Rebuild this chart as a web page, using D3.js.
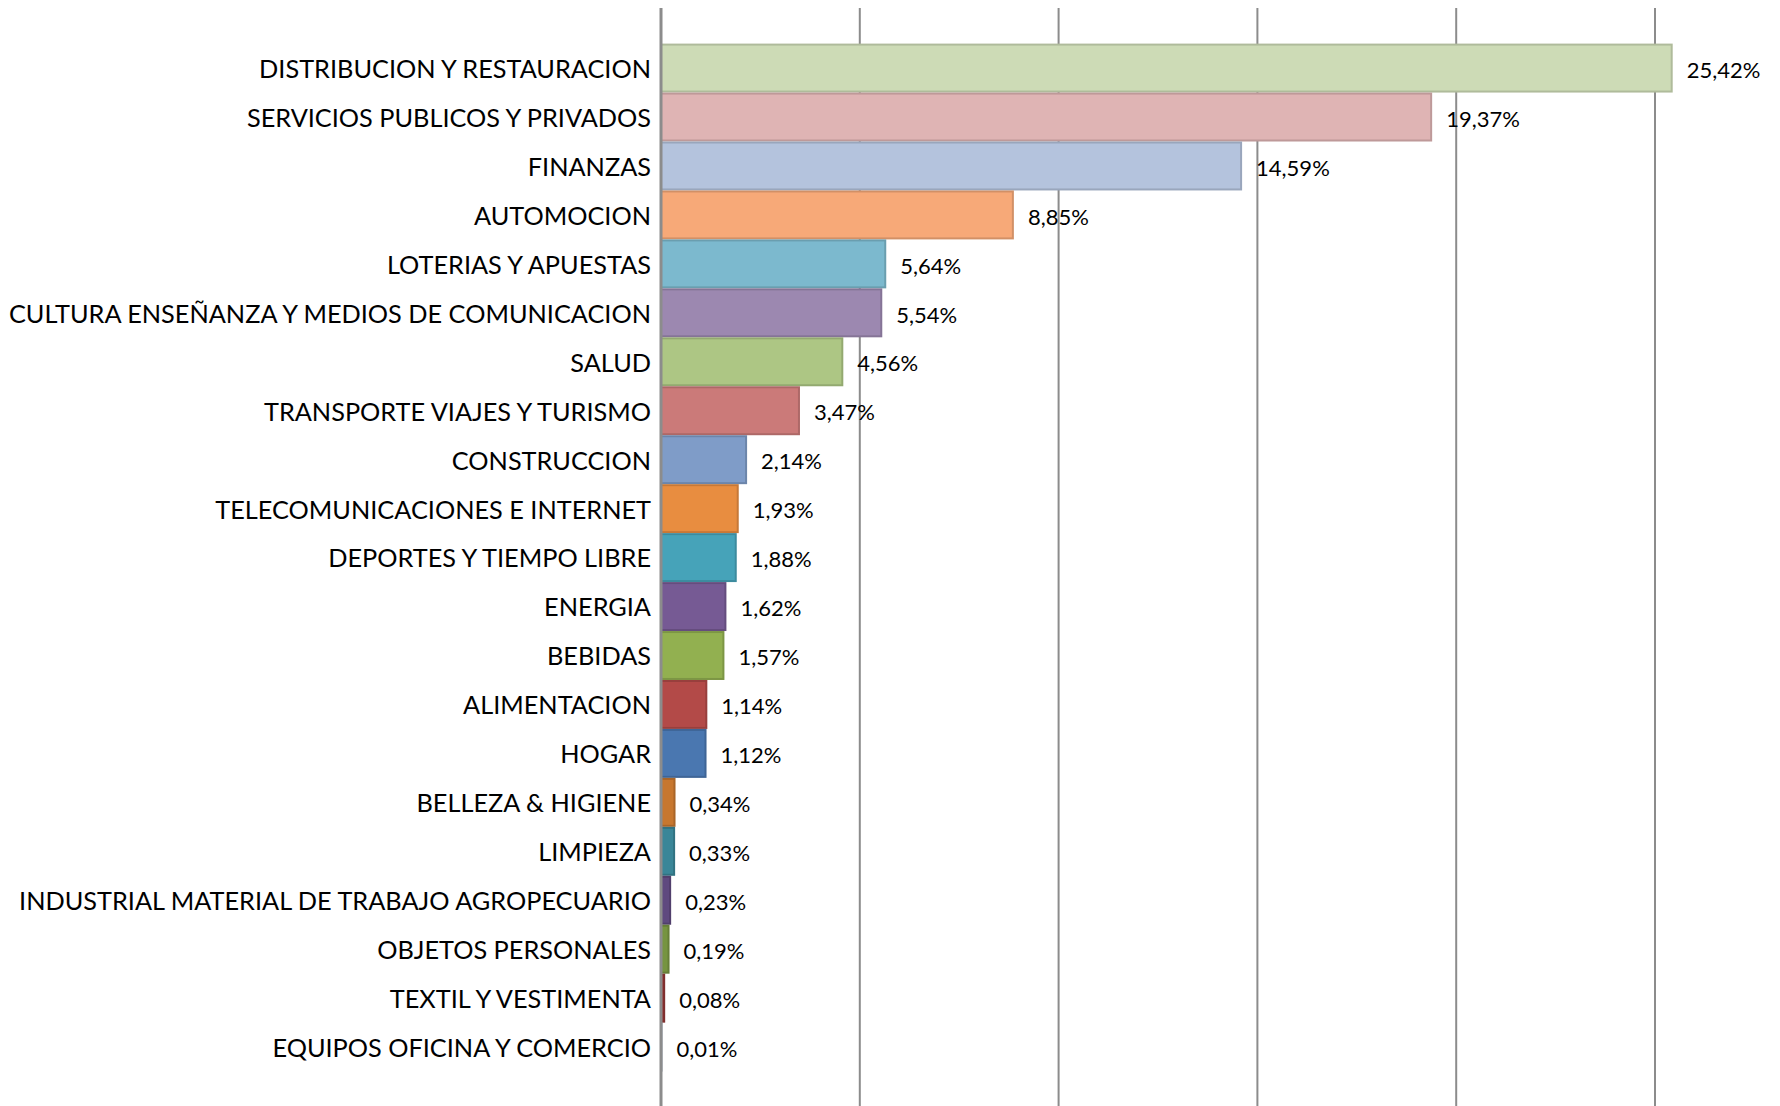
<!DOCTYPE html>
<html>
<head>
<meta charset="utf-8">
<script src="https://cdn.jsdelivr.net/npm/d3@7"></script>
<style>
  body { margin: 0; background: #fff; }
  text { font-family: Lato, "Open Sans", sans-serif; fill: #000; }
</style>
</head>
<body>
<div id="chart"></div>
<script>
// sectors, in the order shown top to bottom
const sectors = [
  "DISTRIBUCION Y RESTAURACION",
  "SERVICIOS PUBLICOS Y PRIVADOS",
  "FINANZAS",
  "AUTOMOCION",
  "LOTERIAS Y APUESTAS",
  "CULTURA ENSEÑANZA Y MEDIOS DE COMUNICACION",
  "SALUD",
  "TRANSPORTE VIAJES Y TURISMO",
  "CONSTRUCCION",
  "TELECOMUNICACIONES E INTERNET",
  "DEPORTES Y TIEMPO LIBRE",
  "ENERGIA",
  "BEBIDAS",
  "ALIMENTACION",
  "HOGAR",
  "BELLEZA & HIGIENE",
  "LIMPIEZA",
  "INDUSTRIAL MATERIAL DE TRABAJO AGROPECUARIO",
  "OBJETOS PERSONALES",
  "TEXTIL Y VESTIMENTA",
  "EQUIPOS OFICINA Y COMERCIO"
];
const shares = [25.42, 19.37, 14.59, 8.85, 5.64, 5.54, 4.56, 3.47, 2.14, 1.93,
  1.88, 1.62, 1.57, 1.14, 1.12, 0.34, 0.33, 0.23, 0.19, 0.08, 0.01];
const colors = [
  "#cddbb6", "#dfb4b4", "#b4c3dd", "#f7a978", "#7cb9ce", "#9c88b0", "#adc684",
  "#cb7a79", "#7f9cc8", "#e88d40", "#46a3b9", "#765a94", "#92b050", "#b34a48",
  "#4a77b0", "#c7772f", "#3a8698", "#5f4a7f", "#769440", "#953635", "#8090a8"
];
const gridTicks = [0, 5, 10, 15, 20, 25];

const width = 1780, height = 1106;
const x0 = 661;

const svg = d3.select("#chart").append("svg")
  .attr("width", width)
  .attr("height", height);

const x = d3.scaleLinear().domain([0, 25]).range([x0, 1655]);
const y = d3.scaleBand().domain(sectors).range([43.6, 1071.6]).padding(0);

// vertical gridlines
svg.append("g")
  .selectAll("line")
  .data(gridTicks.slice(1))
  .enter()
  .append("line")
  .attr("x1", (d) => x(d))
  .attr("x2", (d) => x(d))
  .attr("y1", 8)
  .attr("y2", height)
  .attr("stroke", "#8c8c8c")
  .attr("stroke-width", 2);

// bars
svg.append("g")
  .selectAll("rect")
  .data(shares)
  .enter()
  .append("rect")
  .attr("x", x0)
  .attr("y", (d, i) => y(sectors[i]) + 1)
  .attr("width", (d) => x(d) - x0)
  .attr("height", y.bandwidth() - 2)
  .attr("fill", (d, i) => colors[i])
  .attr("stroke", (d, i) => d3.color(colors[i]).darker(0.45))
  .attr("stroke-width", 2);

// category axis line
svg.append("line")
  .attr("x1", x0).attr("x2", x0)
  .attr("y1", 8).attr("y2", height)
  .attr("stroke", "#8c8c8c")
  .attr("stroke-width", 3);

// category labels
svg.append("g")
  .selectAll("text")
  .data(sectors)
  .enter()
  .append("text")
  .attr("x", x0 - 10)
  .attr("y", (d) => y(d) + y.bandwidth() / 2 + 1)
  .attr("dy", "0.35em")
  .attr("text-anchor", "end")
  .attr("font-size", 25.3)
  .text((d) => d);

// value labels
const fmt = (v) => v.toFixed(2).replace(".", ",") + "%";
svg.append("g")
  .selectAll("text")
  .data(shares)
  .enter()
  .append("text")
  .attr("x", (d) => x(d) + 15)
  .attr("y", (d, i) => y(sectors[i]) + y.bandwidth() / 2 + 2)
  .attr("dy", "0.35em")
  .attr("font-size", 22)
  .text(fmt);
</script>
</body>
</html>
